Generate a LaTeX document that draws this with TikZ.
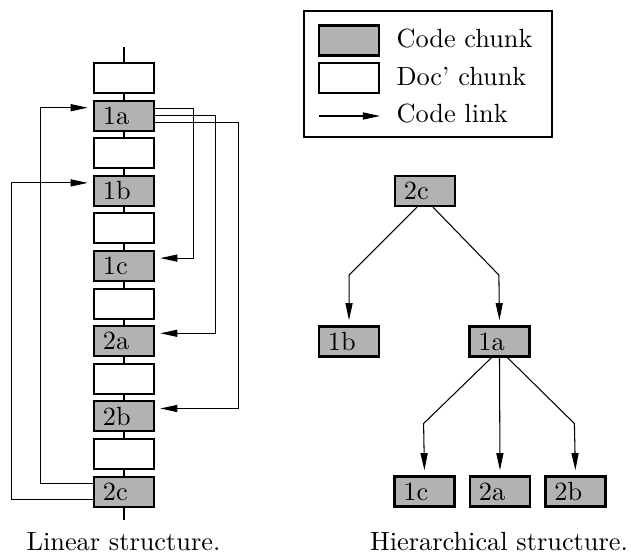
\documentclass[tikz,border=0pt]{standalone}
\usepackage{tikz}
\usetikzlibrary{arrows.meta}
\tikzset{
    codebox/.style={draw, line width=0.8pt, fill=black!30, minimum width=22.8pt, minimum height=11.4pt, text width=16pt, inner xsep=3.4pt, inner ysep=0pt, align=left},
    docbox/.style={draw, line width=0.8pt, fill=white, minimum width=22.8pt, minimum height=11.4pt, inner sep=0pt},
    spine/.style={line width=0.8pt},
    link/.style={thin, -{Triangle[length=6.5pt,width=2.7pt]}, shorten >=2pt}
}
\begin{document}
\begin{tikzpicture}[x=0.38pt, y=-0.38pt]
    \useasboundingbox (0,0) rectangle (631,556);

    \foreach \i in {0,...,5}{
        \draw (124, 78 + 75.2*\i) node[docbox] (d\i) {};
    }
    \foreach \lab [count=\i from 0] in {1a,1b,1c,2a,2b,2c}{
        \draw (124, 115.6 + 75.2*\i) node[codebox] (c\lab) {\lab};
    }
    \coordinate (top) at (124,47);
    \coordinate (bot) at (124,520);
    \foreach \a/\b in {top/d0, d0/c1a, c1a/d1, d1/c1b, c1b/d2, d2/c1c, c1c/d3, d3/c2a, c2a/d4, d4/c2b, c2b/d5, d5/c2c, c2c/bot}{
        \draw[spine] (\a) -- (\b);
    }

    \draw[link] ([yshift=-2.9pt]c2c.west) -- ++(-81,0) |- ([yshift=3pt]c1b.west);
    \draw[link] ([yshift=2.9pt]c2c.west) -- ++(-52,0) |- ([yshift=3pt]c1a.west);
    \draw[link] ([yshift=2.7pt]c1a.east) -- ++(38,0) |- ([yshift=3pt]c1c.east);
    \draw[link] (c1a.east) -- ++(60,0) |- ([yshift=3pt]c2a.east);
    \draw[link] ([yshift=-2.7pt]c1a.east) -- ++(83,0) |- ([yshift=3pt]c2b.east);

    \draw[thin] (304,11) rectangle (552,137);
    \draw (349,40.5) node[codebox] (lgcode) {};
    \draw (349,78) node[docbox] (lgdoc) {};
    \coordinate (lgfrom) at (319,116);
    \coordinate (lgto) at (380,116);
    \draw[link, shorten >=0pt] (lgfrom) -- (lgto);
    \draw (396,48) node[anchor=base west, inner sep=0pt] (lgcodetxt) {Code chunk};
    \draw (396,86) node[anchor=base west, inner sep=0pt] (lgdoctxt) {Doc' chunk};
    \draw (396,123) node[anchor=base west, inner sep=0pt] (lglinktxt) {Code link};

    \draw (425,191) node[codebox] (t2c) {2c};
    \draw (349,341.5) node[codebox] (t1b) {1b};
    \draw (499.5,341.5) node[codebox] (t1a) {1a};
    \foreach \lab/\x in {1c/424.5, 2a/500, 2b/575.5}{
        \draw (\x, 491.5) node[codebox] (t\lab) {\lab};
    }
    \draw[link] ([xshift=-3pt]t2c.south) -- ++(-68,68) -- (t1b.north);
    \draw[link] ([xshift=3pt]t2c.south) -- ++(66,68) -- (t1a.north);
    \draw[link] ([xshift=-3pt]t1a.south) -- ++(-68,66) -- (t1c.north);
    \draw[link] (t1a.south) -- (t2a.north);
    \draw[link] ([xshift=3pt]t1a.south) -- ++(67,66) -- (t2b.north);

    \draw (123.5,551) node[anchor=base, inner sep=0pt] (linear) {Linear structure.};
    \draw (499,551) node[anchor=base, inner sep=0pt] (hier) {Hierarchical structure.};
\end{tikzpicture}
\end{document}
